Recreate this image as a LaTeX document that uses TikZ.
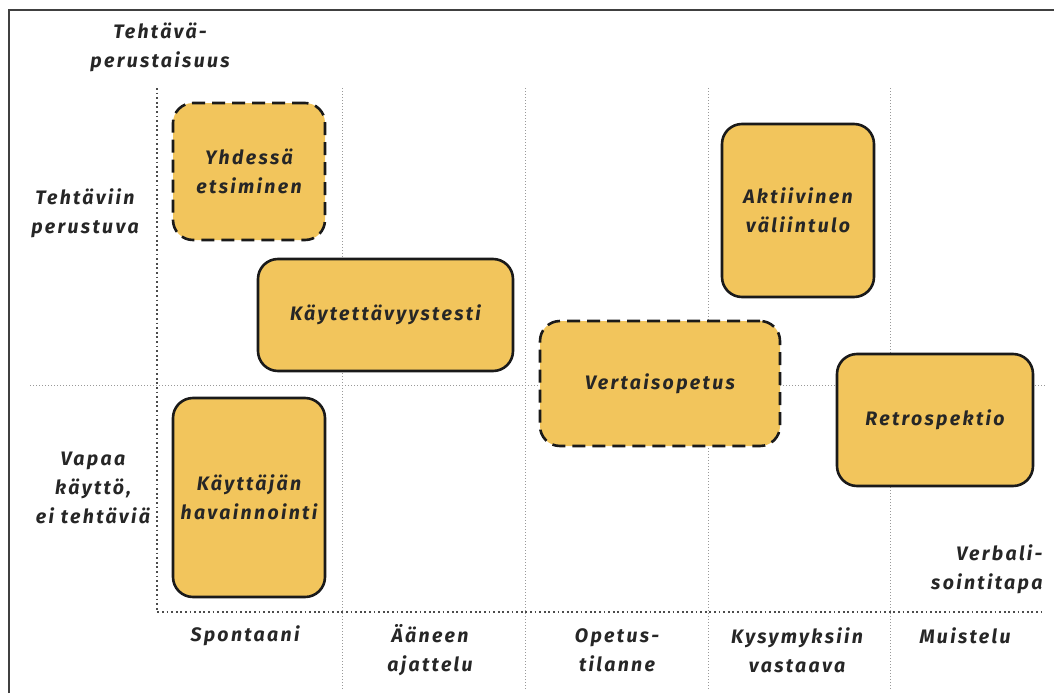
\documentclass[tikz,border=0pt]{standalone}
\usepackage{fontspec}
\newfontfamily\lblfont[LetterSpace=12]{Fira Sans}
\definecolor{boxfill}{RGB}{242,197,92}
\definecolor{boxline}{RGB}{26,26,26}
\tikzset{
  lbl/.style={font=\lblfont\bfseries\itshape\fontsize{19.5}{29}\selectfont, align=center, text=black!85},
  method/.style={lbl, draw=boxline, line width=2.6pt, fill=boxfill, rounded corners=20pt, inner sep=0pt},
  guess/.style={method, dash pattern=on 13pt off 7pt},
  axis/.style={black!70, line width=2.4pt, dash pattern=on 1.8pt off 2.8pt},
  grid/.style={black!40, line width=0.7pt, dash pattern=on 1pt off 2pt}
}
\begin{document}
\begin{tikzpicture}[x=1pt,y=-1pt]
\useasboundingbox (0,0) rectangle (1054,693);
% frame
\draw[black!75, line width=2pt] (9,693) -- (9,10) -- (1054,10);
% grid
\foreach \x in {342,525,708,890}
  \draw[grid] (\x,88) -- (\x,690);
\draw[grid] (30,385) -- (1045,385);
% axes
\draw[axis] (157,88) -- (157,612) -- (1042,612);
% methods
\node[guess, minimum width=152pt, minimum height=137pt] (yhd) at (249,171.5) {Yhdessä\\etsiminen};
\node[method, minimum width=255pt, minimum height=112pt] (kayt) at (385.5,315) {Käytettävyystesti};
\node[method, minimum width=152pt, minimum height=199pt] (havn) at (249,497.5) {Käyttäjän\\havainnointi};
\node[guess, minimum width=240pt, minimum height=125pt] (vert) at (660,383.5) {Vertaisopetus};
\node[method, minimum width=152pt, minimum height=173pt] (akt) at (798,210.5) {Aktiivinen\\väliintulo};
\node[method, minimum width=196pt, minimum height=132pt] (retro) at (935,420) {Retrospektio};
% vertical axis
\node[lbl] (ylab) at (160,47) {Tehtävä-\\perustaisuus};
\node[lbl] (ytask) at (85,213) {Tehtäviin\\perustuva};
\node[lbl] (yfree) at (93,488) {Vapaa\\käyttö,\\ei tehtäviä};
% horizontal axis
\node[lbl, align=right, anchor=east] (xlab) at (1046,569) {Verbali-\\sointitapa};
\node[lbl] (spon) at (245,636) {Spontaani};
\node[lbl] (aan) at (430,650) {Ääneen\\ajattelu};
\node[lbl] (opet) at (617,650) {Opetus-\\tilanne};
\node[lbl] (kys) at (797,650) {Kysymyksiin\\vastaava};
\node[lbl] (muis) at (965,636) {Muistelu};
\end{tikzpicture}
\end{document}
